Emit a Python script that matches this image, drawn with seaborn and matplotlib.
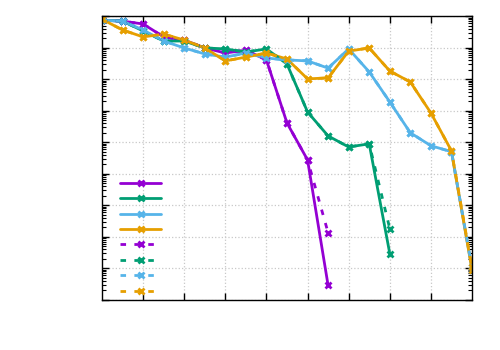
import numpy as np
import pandas as pd
import seaborn as sns
import matplotlib.pyplot as plt
from matplotlib.ticker import LogLocator, NullFormatter, FixedLocator

# x positions (half steps)
x_all = [0.5 * i for i in range(19)]

# values as log10(y)
purple = [-0.13, -0.16, -0.25, -0.66, -0.76, -1.01, -1.17, -1.08, -1.39, -3.39, -4.56, -8.54]
green = [-0.13, -0.16, -0.47, -0.79, -0.79, -1.01, -1.04, -1.14, -1.04, -1.52, -3.04, -3.80, -4.15, -4.05, -7.53]
blue = [-0.13, -0.16, -0.44, -0.79, -1.01, -1.20, -1.30, -1.17, -1.33, -1.39, -1.42, -1.65, -1.04, -1.77,
        -2.72, -3.70, -4.11, -4.30, -8.04]
orange = [-0.10, -0.44, -0.66, -0.57, -0.76, -1.01, -1.42, -1.30, -1.17, -1.36, -1.99, -1.96, -1.11, -1.01,
          -1.74, -2.09, -3.07, -4.27, -8.04]

# dashed variants: same runs, different last point
purple_dot = purple[:-1] + [-6.87]
green_dot = green[:-1] + [-6.74]
blue_dot = blue[:-1] + [-7.97]
orange_dot = orange[:-1] + [-7.97]

colors = {"purple": "#9400d3", "green": "#009e73", "blue": "#56b4e9", "orange": "#e69f00"}

series = [
  ("purple", purple, False), ("green", green, False), ("blue", blue, False), ("orange", orange, False),
  ("purple", purple_dot, True), ("green", green_dot, True), ("blue", blue_dot, True), ("orange", orange_dot, True),
]

sns.set_style("ticks")
fig = plt.figure(figsize=(5, 3.5), dpi=100)
ax = fig.add_axes([0.204, 0.143, 0.74, 0.811])

handles = []
for name, vals, dashed in series:
  df = pd.DataFrame({"x": x_all[:len(vals)], "y": 10 ** np.array(vals)})
  sns.lineplot(data=df, x="x", y="y", ax=ax, color=colors[name], linewidth=2,
               marker="x", markersize=4, markeredgewidth=2,
               markeredgecolor=colors[name])
  line = ax.lines[-1]
  if dashed:
    line.set_dashes((2, 3))
  handles.append(line)

ax.set_yscale("log")
ax.set_xlim(0, 9)
ax.set_ylim(1e-9, 1)
ax.set_xlabel("")
ax.set_ylabel("")
ax.xaxis.set_major_locator(FixedLocator(range(1, 9)))
ax.yaxis.set_major_locator(LogLocator(base=10, numticks=20))
ax.yaxis.set_minor_locator(LogLocator(base=10, subs=np.arange(2, 10), numticks=20))
ax.xaxis.set_major_formatter(NullFormatter())
ax.yaxis.set_major_formatter(NullFormatter())
ax.yaxis.set_minor_formatter(NullFormatter())
ax.tick_params(which="both", direction="in", top=True, right=True, color="black")
ax.tick_params(which="major", length=5, width=1)
ax.tick_params(which="minor", length=3, width=0.8)
ax.grid(True, which="major", color="#c8c8c8", linestyle=":", linewidth=0.9)
for s in ax.spines.values():
  s.set_color("black")
  s.set_linewidth(1)

leg = ax.legend(handles, [""] * 8, loc="upper left", bbox_to_anchor=(0.02, 0.47),
                frameon=False, handlelength=3.5, handletextpad=0, labelspacing=0.2,
                fontsize=8.5)

fig.savefig("out.png", dpi=100)
